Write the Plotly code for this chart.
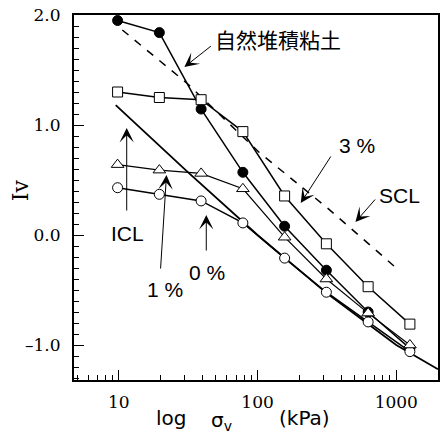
import plotly.graph_objects as go

# ---- data ----
pressure = [9.8, 19.6, 39.2, 78.4, 156.8, 313.6, 627.2, 1254.4]
iv_natural = [1.95, 1.84, 1.145, 0.57, 0.08, -0.32, -0.70, -1.03]
iv_3pct = [1.30, 1.25, 1.23, 0.94, 0.355, -0.08, -0.47, -0.81]
iv_1pct = [0.64, 0.59, 0.56, 0.42, -0.02, -0.40, -0.71, -1.00]
iv_0pct = [0.43, 0.37, 0.31, 0.11, -0.21, -0.52, -0.79, -1.06]

icl_sigma = [9.5, 31.6, 100, 316, 1000, 2000]
icl_iv = [1.18, 0.57, 0.0, -0.53, -1.0, -1.22]

scl_sigma = [10.6, 31, 103, 316, 980]
scl_iv = [1.864, 1.38, 0.75, 0.25, -0.29]

x_tickvals = [10, 100, 1000]
x_ticktext = ["10", "100", "1000"]
x_minor = [5, 6, 7, 8, 9, 20, 30, 40, 50, 60, 70, 80, 90,
           200, 300, 400, 500, 600, 700, 800, 900, 2000]
y_tickvals = [-1, 0, 1, 2]
y_ticktext = ["\u20131.0", "0.0", "1.0", "2.0"]

# ---- layout helpers (pixel -> axis coords for annotation placement) ----
W, H = 443, 446
L, R, T, B = 74, 3, 15, 66
XR = [0.677, 3.301]
YR = [-1.318, 2.0]


def lx(px):
    return XR[0] + (px - L) / (W - L - R) * (XR[1] - XR[0])


def ly(py):
    return YR[1] - (py - T) / (H - T - B) * (YR[1] - YR[0])


def paper_x(px):
    return (px - L) / (W - L - R)


def paper_y(py):
    return (H - B - py) / (H - T - B)


fig = go.Figure()

fig.add_trace(go.Scatter(x=icl_sigma, y=icl_iv, mode="lines",
                         line=dict(color="black", width=1.8), showlegend=False))
fig.add_trace(go.Scatter(x=scl_sigma, y=scl_iv, mode="lines",
                         line=dict(color="black", width=1.5, dash="8px,8px"),
                         showlegend=False))

fig.add_trace(go.Scatter(x=pressure, y=iv_natural, mode="lines+markers",
                         line=dict(color="black", width=1.5),
                         marker=dict(symbol="circle", size=10, color="black",
                                     line=dict(color="black", width=1)),
                         showlegend=False))
fig.add_trace(go.Scatter(x=pressure, y=iv_0pct, mode="lines+markers",
                         line=dict(color="black", width=1.5),
                         marker=dict(symbol="circle", size=10, color="white",
                                     line=dict(color="black", width=1)),
                         showlegend=False))
fig.add_trace(go.Scatter(x=pressure, y=iv_1pct, mode="lines+markers",
                         line=dict(color="black", width=1.2),
                         marker=dict(symbol="triangle-up", size=11, color="white",
                                     line=dict(color="black", width=1)),
                         showlegend=False))
fig.add_trace(go.Scatter(x=pressure, y=iv_3pct, mode="lines+markers",
                         line=dict(color="black", width=1.5),
                         marker=dict(symbol="square", size=10, color="white",
                                     line=dict(color="black", width=1)),
                         showlegend=False))

sans = "Liberation Sans, Arial, sans-serif"
dsans = "DejaVu Sans, sans-serif"
serif = "DejaVu Serif, serif"
cjk = "Noto Sans CJK JP"

annotations = []


def arrow(tip_px, tail_px):
    annotations.append(dict(
        x=lx(tip_px[0]), y=ly(tip_px[1]), xref="x", yref="y",
        ax=tail_px[0] - tip_px[0], ay=tail_px[1] - tip_px[1],
        axref="pixel", ayref="pixel", text="", showarrow=True,
        arrowhead=3, arrowsize=2.4, arrowwidth=1, arrowcolor="black"))


def label(text, pos_px, size, family):
    annotations.append(dict(
        x=lx(pos_px[0]), y=ly(pos_px[1]), xref="x", yref="y",
        text=text, showarrow=False, font=dict(size=size, family=family,
                                              color="black"),
        xanchor="center", yanchor="middle"))


def plabel(text, pos_px, size, family, angle=0):
    annotations.append(dict(
        x=paper_x(pos_px[0]), y=paper_y(pos_px[1]), xref="paper", yref="paper",
        text=text, showarrow=False, textangle=angle,
        font=dict(size=size, family=family, color="black"),
        xanchor="center", yanchor="middle"))


arrow((185, 67), (213, 45))
label("自然堆積粘土", (279, 39), 21, cjk)
arrow((302, 203), (333, 155))
label("3 %", (359, 145), 21, sans)
arrow((357, 222), (378, 198))
label("SCL", (401, 195), 21, sans)
arrow((127, 128), (127, 212))
label("ICL", (128, 233), 21, sans)
arrow((167, 175), (161, 270))
label("1 %", (165, 289), 21, sans)
arrow((207, 215), (207, 252))
label("0 %", (208, 272), 21, sans)

# axis titles
plabel("Iv", (20, 190), 22, serif, angle=-90)
plabel("log", (172, 418), 20, dsans)
plabel("σ<sub>v</sub>", (222, 421), 20, dsans)
plabel("(kPa)", (306, 418), 20, dsans)

fig.update_layout(
    width=W, height=H,
    margin=dict(l=L, r=R, t=T, b=B, pad=0),
    plot_bgcolor="white", paper_bgcolor="white",
    annotations=annotations,
    showlegend=False,
)
fig.update_xaxes(type="log", range=XR, showline=True, linecolor="black",
                 linewidth=2, mirror=True, showgrid=False, zeroline=False,
                 tickmode="array", tickvals=x_tickvals, ticktext=x_ticktext,
                 ticks="inside", ticklen=10, tickwidth=1, tickcolor="black",
                 tickfont=dict(size=17, family=serif, color="black"),
                 ticklabelstandoff=6,
                 minor=dict(tickmode="array", tickvals=x_minor, ticks="inside",
                            ticklen=5, tickwidth=1, tickcolor="black",
                            showgrid=False))
fig.update_yaxes(range=YR, showline=True, linecolor="black", linewidth=2,
                 mirror=True, showgrid=False, zeroline=False,
                 tickmode="array", tickvals=y_tickvals, ticktext=y_ticktext,
                 ticks="inside", ticklen=10, tickwidth=1, tickcolor="black",
                 tickfont=dict(size=17, family=serif, color="black"),
                 ticklabelstandoff=8,
                 minor=dict(dtick=0.1, tick0=0, ticks="inside", ticklen=5,
                            tickwidth=1, tickcolor="black", showgrid=False))

fig.write_html("out.html")
